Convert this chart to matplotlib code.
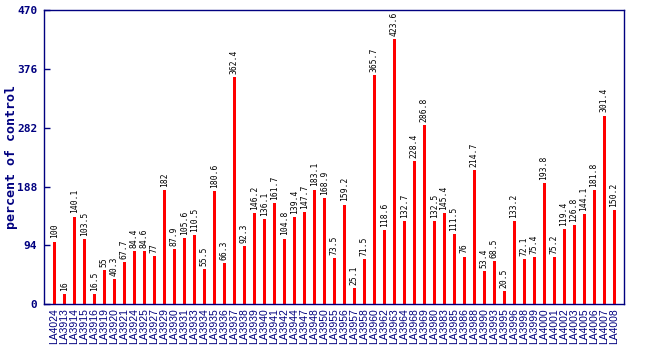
import matplotlib
matplotlib.use("Agg")
import matplotlib.pyplot as plt

samples = ["LA4024", "LA3913", "LA3914", "LA3915", "LA3916", "LA3919", "LA3920",
           "LA3921", "LA3924", "LA3925", "LA3927", "LA3929", "LA3930", "LA3931",
           "LA3933", "LA3934", "LA3935", "LA3936", "LA3937", "LA3938", "LA3939",
           "LA3940", "LA3941", "LA3942", "LA3944", "LA3947", "LA3948", "LA3950",
           "LA3955", "LA3956", "LA3957", "LA3958", "LA3960", "LA3962", "LA3963",
           "LA3964", "LA3968", "LA3969", "LA3980", "LA3983", "LA3985", "LA3986",
           "LA3988", "LA3990", "LA3993", "LA3995", "LA3996", "LA3998", "LA3999",
           "LA4000", "LA4001", "LA4002", "LA4003", "LA4005", "LA4006", "LA4007",
           "LA4008"]
values = [100, 16, 140.1, 103.5, 16.5, 55, 40.3, 67.7, 84.4, 84.6,
          77, 182, 87.9, 105.6, 110.5, 55.5, 180.6, 66.3, 362.4, 92.3,
          146.2, 136.1, 161.7, 104.8, 139.4, 147.7, 183.1, 168.9, 73.5, 159.2,
          25.1, 71.5, 365.7, 118.6, 423.6, 132.7, 228.4, 286.8, 132.5, 145.4,
          111.5, 76, 214.7, 53.4, 68.5, 20.5, 133.2, 72.1, 75.4, 193.8,
          75.2, 119.4, 126.8, 144.1, 181.8, 301.4, 150.2]
yticks = [0, 94, 188, 282, 376, 470]

navy = "#000080"
fig = plt.figure(figsize=(6.5, 3.5), dpi=100)
ax = fig.add_axes([0.068, 0.131, 0.892, 0.84])

x = list(range(len(values)))
ax.bar(x, values, width=0.3, color="#ff0000", zorder=2)

for xi, v in zip(x, values):
    ax.text(xi, v + 5, f"{v:g}", rotation=90, ha="center", va="bottom",
            fontsize=5.8, family="DejaVu Sans Mono", color="black")

ax.set_xlim(-1, len(values))
ax.set_ylim(0, 470)
ax.set_yticks(yticks)
ax.set_yticklabels([str(t) for t in yticks], family="DejaVu Sans Mono",
                   fontweight="bold", fontsize=8, color=navy)
ax.set_xticks(x)
ax.set_xticklabels(samples, rotation=90, fontsize=7.5, color=navy,
                   family="Liberation Sans")
ax.tick_params(axis="x", length=0, pad=3)
ax.tick_params(axis="y", direction="in", length=4, color=navy, width=1, pad=5)
for sp in ax.spines.values():
    sp.set_color(navy)
    sp.set_linewidth(1)

# y label placed by hand so it stays inside the left margin
fig.text(0.017, 0.55, "percent of control", rotation=90, ha="center",
         va="center", family="DejaVu Sans Mono", fontweight="bold",
         fontsize=9.5, color=navy)

fig.savefig("out.png", dpi=100)
